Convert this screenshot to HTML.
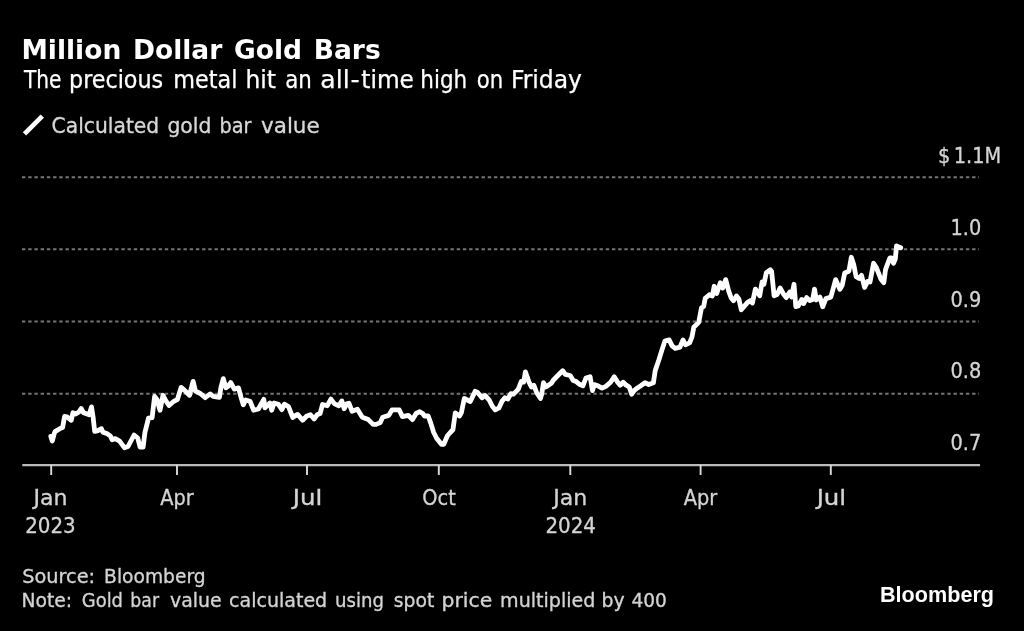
<!DOCTYPE html>
<html><head><meta charset="utf-8"><title>Million Dollar Gold Bars</title>
<style>
html,body{margin:0;padding:0;background:#000;}
svg{display:block}
text{font-family:"DejaVu Sans Condensed","DejaVu Sans","Liberation Sans",sans-serif;}
.t{font-family:"DejaVu Sans","Liberation Sans",sans-serif;font-weight:bold;font-size:26.5px;fill:#fff;word-spacing:2.5px}
.s{font-size:24px;fill:#fff;word-spacing:4px;stroke:#fff;stroke-width:.25px}
.l{font-size:21.4px;fill:#d8d8d8;stroke:#d8d8d8;stroke-width:.3px}
.ax{font-size:21.5px;fill:#d4d4d4;stroke:#d4d4d4;stroke-width:.3px}
.n{font-size:19.7px;fill:#d4d4d4;stroke:#d4d4d4;stroke-width:.3px}
.bb{font-family:"Liberation Sans",sans-serif;font-weight:bold;font-size:22.4px;fill:#fff}
.g{stroke:#747474;stroke-width:2.1;stroke-dasharray:3.4 2.81;fill:none}
</style></head>
<body>
<svg width="1024" height="631" viewBox="0 0 1024 631">
<rect width="1024" height="631" fill="#000"/>
<text id="title" class="t" x="21.5" y="58.9">Million Dollar Gold Bars</text>
<text id="sub" class="s" y="88"><tspan x="24.0" textLength="37.5" lengthAdjust="spacingAndGlyphs">The</tspan> <tspan x="69.0" textLength="94.2" lengthAdjust="spacingAndGlyphs">precious</tspan> <tspan x="173.3" textLength="64.1" lengthAdjust="spacingAndGlyphs">metal</tspan> <tspan x="245.4" textLength="30.5" lengthAdjust="spacingAndGlyphs">hit</tspan> <tspan x="285.3" textLength="26.6" lengthAdjust="spacingAndGlyphs">an</tspan> <tspan x="320.3" textLength="29.3" lengthAdjust="spacingAndGlyphs">all</tspan><tspan x="350.6" textLength="9.2" lengthAdjust="spacingAndGlyphs">-</tspan><tspan x="361.3" textLength="52.6" lengthAdjust="spacingAndGlyphs">time</tspan> <tspan x="420.3" textLength="46.9" lengthAdjust="spacingAndGlyphs">high</tspan> <tspan x="476.8" textLength="26.4" lengthAdjust="spacingAndGlyphs">on</tspan> <tspan x="511.1" textLength="70.9" lengthAdjust="spacingAndGlyphs">Friday</tspan></text>
<line x1="24.5" y1="133.9" x2="42.3" y2="116.1" stroke="#fff" stroke-width="4.7"/>
<text id="leg" class="l" y="133"><tspan x="51.6" textLength="107.6" lengthAdjust="spacingAndGlyphs">Calculated</tspan> <tspan x="167.4" textLength="44.0" lengthAdjust="spacingAndGlyphs">gold</tspan> <tspan x="219.4" textLength="32.1" lengthAdjust="spacingAndGlyphs">bar</tspan> <tspan x="261.0" textLength="58.7" lengthAdjust="spacingAndGlyphs">value</tspan></text>
<g class="g">
<line x1="22" y1="177.2" x2="979" y2="177.2"/>
<line x1="22" y1="249.3" x2="979" y2="249.3"/>
<line x1="22" y1="321.5" x2="979" y2="321.5"/>
<line x1="22" y1="393.8" x2="979" y2="393.8"/>
</g>
<g id="yl" class="ax" text-anchor="end">
<text x="1001.2" y="162.7" style="word-spacing:-2.6px">$ 1.1M</text>
<text x="981.3" y="235">1.0</text>
<text x="981.3" y="306.6">0.9</text>
<text x="981.3" y="378.2">0.8</text>
<text x="981.3" y="449.8">0.7</text>
</g>
<path d="M22.3 465.1H980" stroke="#bababa" stroke-width="2.1" fill="none"/>
<path d="M51.2 465v10M177 465v10M307 465v10M438.8 465v10M570.3 465v10M700.6 465v10M830.8 465v10" stroke="#dadada" stroke-width="1.9" fill="none"/>
<g id="xl" class="ax" text-anchor="middle">
<text x="50.5" y="504.7" textLength="34" lengthAdjust="spacingAndGlyphs">Jan</text><text x="50.4" y="533" textLength="50.5" lengthAdjust="spacingAndGlyphs">2023</text>
<text x="177" y="504.7">Apr</text>
<text x="307.6" y="504.7" textLength="29.5" lengthAdjust="spacingAndGlyphs">Jul</text>
<text x="439" y="504.7">Oct</text>
<text x="570.3" y="504.7" textLength="34" lengthAdjust="spacingAndGlyphs">Jan</text><text x="570.7" y="533" textLength="50.5" lengthAdjust="spacingAndGlyphs">2024</text>
<text x="700.6" y="504.7">Apr</text>
<text x="831.4" y="504.7" textLength="29.5" lengthAdjust="spacingAndGlyphs">Jul</text>
</g>
<polyline id="ln" fill="none" stroke="#fff" stroke-width="4.8" stroke-linejoin="round" stroke-linecap="round" points="50.8,436.4 52.3,441 54.3,433.4 55,431.6 56.7,430.6 60.6,428.3 62.6,427.5 64.6,416.4 67,416.8 71.3,420.3 72.9,412.8 75.7,414 78.9,412 81.2,408.5 83.6,412.8 89.1,414.8 91.5,406.9 93.1,417.2 94.7,431.4 97.9,430.6 101.4,428.7 103,432.2 107.4,433.8 110.5,436.2 112.1,439.8 115.3,438.6 119.6,441.1 124.4,447.7 128,446.5 134.1,435 137.7,438 140.1,447.1 143.1,447.1 144.9,432.6 148.5,418.2 152.1,417.6 154.6,396.5 157,399.5 160,410.3 163,395.3 165.4,400.1 169,405.5 173.8,401.3 177.4,399.5 181.1,387.4 184.1,389.9 189.5,395.3 193.1,381.4 195.5,391.1 200.3,393.5 205.2,397.7 210.2,393.9 213.2,396.3 219.4,397.4 220.9,387.5 223.3,378.6 225.9,387.9 228.3,386.1 230.7,382.5 234.3,389.1 238.5,387.9 240.9,396.9 243.3,404.8 245.8,400 250,401.2 253.6,410.2 258.4,409 263.8,399.3 265,407.8 269.9,403 271.7,410.2 274.1,403 278.3,404.2 281.9,409.6 284.3,404.2 288.5,406.6 292.7,417.4 297.6,414.4 302.6,420.2 306.8,416 310.5,414.8 314.1,419 317.1,414.8 320.1,413.6 322.5,404.5 327.3,405.7 330.9,399.1 334.6,403.9 338.8,405.7 341.8,400.9 344.2,408.7 346.6,403.9 349,403.3 352,411.2 357.4,409.3 362.3,417.2 368.3,419.6 373.1,424.4 376.1,424.4 380.3,422.6 382.7,417.2 388.8,415.4 392,409.9 399.3,409.9 402.3,416.6 408.3,415.3 412.5,419.6 416.1,413.5 419.7,411.7 422.7,413.5 424.6,416 428.2,416 430.6,422.6 433.6,432.2 436.6,438.2 441.4,444.3 443.8,444.3 447.4,435.8 450.5,432.2 452.9,429.8 455.3,412.9 459.5,416 461.3,412.9 464.3,398.5 470.3,401.5 475.2,391.3 477.6,392.5 482,397.8 485,395.4 489.3,400.2 492.3,406.2 495.3,409.9 498.9,408 501.9,401.4 504.9,397.8 507.9,399 510.9,393.6 513.3,394.2 518.2,389.4 521.2,381.5 523.6,382.1 525.4,371.9 529,382.1 531.4,387 533.8,385.2 536.8,393 540.5,398.4 541.7,394.2 543.5,382.7 545.9,387 551.3,383.3 553.7,379.7 559.1,374.3 562.7,370.7 565.2,374.3 570.2,375.5 573.2,380.4 576.2,381.6 579.9,384.6 582.9,385.8 585.9,378 590.1,376.7 592.5,390.6 594.3,384.6 597.9,385.8 602.1,388.2 605.8,386.4 610.6,382.2 614.2,376.7 617.2,381.6 620.2,385.2 623.2,382.2 626.2,385.2 629.3,387 631.7,394.2 634.1,390.6 637.1,388.2 640.8,385.7 645,382.7 648.7,384.5 653.4,382.8 655.2,370.6 658.9,359.8 661.9,350.1 664.9,341.1 669.1,339.9 672.1,345.9 675.2,348.3 680,347.1 683,339.9 685.4,344.7 689.6,342.9 692,336.9 693.8,327.2 698.7,322.4 701.5,307.8 703.7,306.4 705.2,298.3 709.4,294.7 712.4,295.9 714.2,286.3 716.7,293.5 720.3,282.7 722.7,288.1 725.7,279.6 728.7,291.1 731.1,297.7 733.5,300.7 736.5,295.9 738.9,298.9 741.3,309.8 747.6,302.4 750.6,300.6 752.4,303 755.4,289.1 759.7,295.8 762.1,281.9 763.9,284.3 766.3,272.8 770.4,269.8 771.6,271.5 774.1,295.8 777.1,294.6 780.1,287.9 783.8,294.6 786.2,297.6 789.8,292.1 791.6,297 794,284.3 795.8,306.6 798.2,306 801.8,299.4 803.6,303.6 806.7,297.6 809.7,300.6 812.7,299.4 814.5,289.1 816.3,300 819.9,297 822.7,306.8 825.9,298.6 830.8,297.1 833.2,288.6 835.6,279.6 839.9,289.2 842.3,285 844.7,273 848.9,271.2 851.3,257.3 853.7,264.5 856.1,276.6 859.1,278.4 861.5,275.4 864.6,287.4 867.6,281.4 870,282 873.6,263.3 876.6,268.1 880.8,279 883.8,282.6 885.6,269.3 889.9,257.9 891.7,257.9 893.5,263.3 895.3,259.1 896.5,245.9 900.7,247.7"/>
<text id="src" class="n" y="582.8"><tspan x="22.3" textLength="72.8" lengthAdjust="spacingAndGlyphs">Source:</tspan> <tspan x="104.1" textLength="101.5" lengthAdjust="spacingAndGlyphs">Bloomberg</tspan></text>
<text id="note" class="n" y="606.6"><tspan x="21.6" textLength="50.6" lengthAdjust="spacingAndGlyphs">Note:</tspan> <tspan x="81.8" textLength="41.2" lengthAdjust="spacingAndGlyphs">Gold</tspan> <tspan x="130.3" textLength="28.7" lengthAdjust="spacingAndGlyphs">bar</tspan> <tspan x="170.0" textLength="51.6" lengthAdjust="spacingAndGlyphs">value</tspan> <tspan x="229.1" textLength="98.1" lengthAdjust="spacingAndGlyphs">calculated</tspan> <tspan x="335.1" textLength="48.9" lengthAdjust="spacingAndGlyphs">using</tspan> <tspan x="393.7" textLength="40.6" lengthAdjust="spacingAndGlyphs">spot</tspan> <tspan x="441.5" textLength="50.7" lengthAdjust="spacingAndGlyphs">price</tspan> <tspan x="500.1" textLength="95.3" lengthAdjust="spacingAndGlyphs">multiplied</tspan> <tspan x="601.6" textLength="23.1" lengthAdjust="spacingAndGlyphs">by</tspan> <tspan x="631.4" textLength="35.4" lengthAdjust="spacingAndGlyphs">400</tspan></text>
<text id="bb" class="bb" x="880" y="602" textLength="114" lengthAdjust="spacingAndGlyphs">Bloomberg</text>
</svg>
</body></html>
